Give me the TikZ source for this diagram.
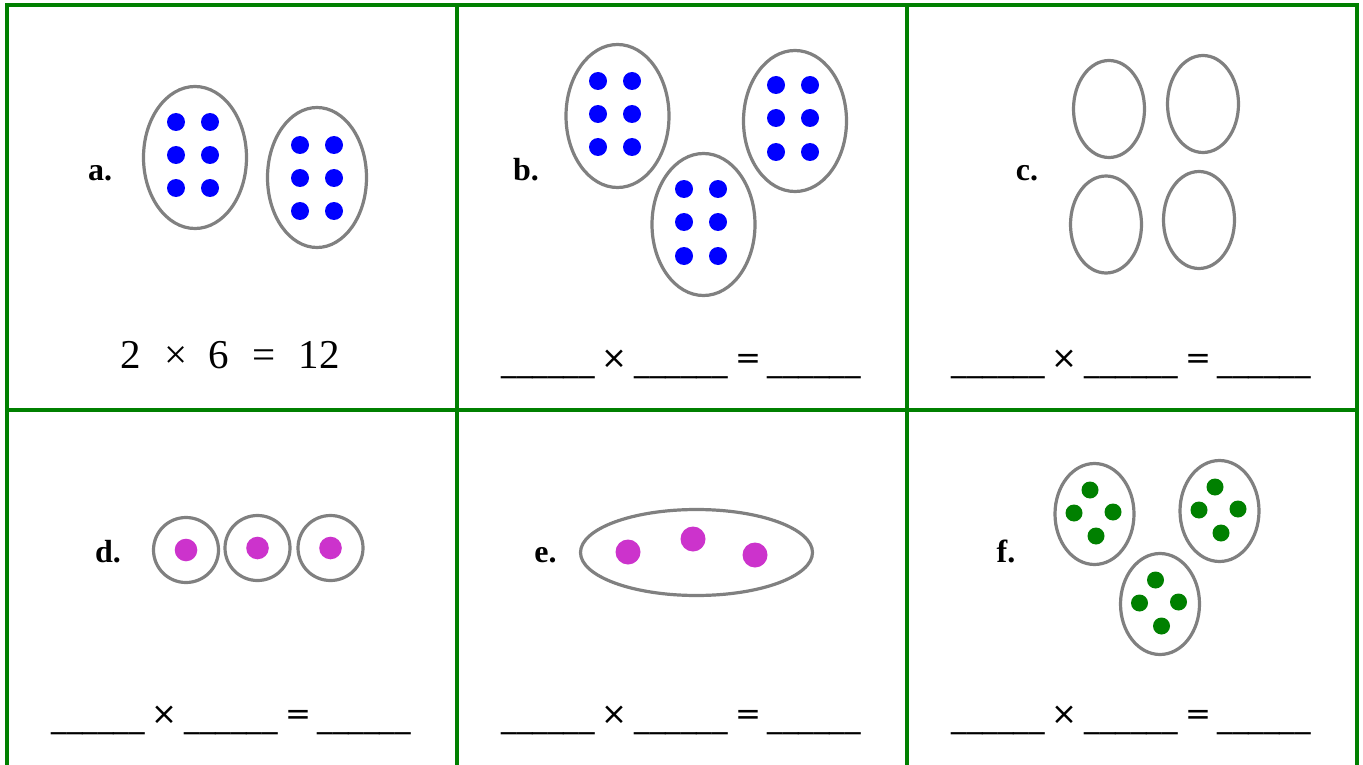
\documentclass[tikz,border=0pt]{standalone}
\usepackage{fontspec}
\setmainfont{Liberation Serif}
\newfontfamily\blankfont{DejaVu Sans}
\usepackage{tikz}

\definecolor{gridgreen}{RGB}{0,128,0}
\definecolor{ringgray}{RGB}{128,128,128}
\definecolor{dotblue}{RGB}{0,0,255}
\definecolor{dotpink}{RGB}{204,51,204}
\definecolor{dotgreen}{RGB}{0,128,0}

\newcommand{\answerline}[3]{%
  \node[blank] (#1u1) at (#2+91,#3+3) {\_\_\_\_\_\_};
  \node[blank] (#1times) at (#2+157,#3) {×};
  \node[blank] (#1u2) at (#2+224,#3+3) {\_\_\_\_\_\_};
  \node[blank] (#1eq) at (#2+291,#3) {=};
  \node[blank] (#1u3) at (#2+357,#3+3) {\_\_\_\_\_\_};
}

\begin{document}
\begin{tikzpicture}[x=1pt, y=-1pt,
    cellline/.style={draw=gridgreen, line width=3.4pt},
    ring/.style={draw=ringgray, line width=3.2pt},
    lbl/.style={font=\fontsize{32}{38}\selectfont\bfseries, inner sep=0pt, anchor=base},
    eqtext/.style={font=\fontsize{41}{48}\selectfont, inner sep=0pt, anchor=base},
    blank/.style={font=\blankfont\fontsize{31}{36}\selectfont, inner sep=0pt, anchor=base}]
    \useasboundingbox (0,0) rectangle (1363,765);
    \fill[white] (0,0) rectangle (1363,765);

    \foreach \x in {7,457,907,1357} \draw[cellline] (\x,3.3) -- (\x,765);
    \foreach \y in {5,410} \draw[cellline] (5.3,\y) -- (1358.7,\y);

    % a
    \node[lbl] (la) at (100,180) {a.};
    \draw[ring] (195,157.5) ellipse [x radius=51.5, y radius=71];
    \draw[ring] (317,177.5) ellipse [x radius=49.5, y radius=70];
    \foreach \x in {176,210} \foreach \y in {122,155,188} \fill[dotblue] (\x,\y) circle (9);
    \foreach \x in {300,334} \foreach \y in {145,178,211} \fill[dotblue] (\x,\y) circle (9);
    \node[eqtext] (eqtwo) at (131,368) {2};
    \node[eqtext] (eqtimes) at (176,368) {×};
    \node[eqtext] (eqsix) at (219,368) {6};
    \node[eqtext] (eqeq) at (264,368) {=};
    \node[eqtext] (eqprod) at (319,368) {12};

    % b
    \node[lbl] (lb) at (526,180) {b.};
    \draw[ring] (617.5,116) ellipse [x radius=51.5, y radius=71.5];
    \draw[ring] (795,121) ellipse [x radius=51.5, y radius=70.5];
    \draw[ring] (703.5,224.5) ellipse [x radius=51.5, y radius=71];
    \foreach \x in {598,632} \foreach \y in {81,114,147} \fill[dotblue] (\x,\y) circle (9);
    \foreach \x in {776,810} \foreach \y in {85,118,152} \fill[dotblue] (\x,\y) circle (9);
    \foreach \x in {684,718} \foreach \y in {189,222,256} \fill[dotblue] (\x,\y) circle (9);
    \answerline{b}{457}{368}

    % c
    \node[lbl] (lc) at (1027,180) {c.};
    \foreach \cx/\cy in {1109/109,1203/104,1106/224.5,1199/220}
      \draw[ring] (\cx,\cy) ellipse [x radius=35.5, y radius=48.5];
    \answerline{c}{907}{368}

    % d
    \node[lbl] (ld) at (108,562) {d.};
    \foreach \cx/\cy in {186/550,257.5/548,330.5/548} {
      \draw[ring] (\cx,\cy) circle (32.5);
      \fill[dotpink] (\cx,\cy) circle (11.3);
    }
    \answerline{d}{7}{724}

    % e
    \node[lbl] (le) at (545.5,562) {e.};
    \draw[ring] (696.5,552.5) ellipse [x radius=116, y radius=43];
    \foreach \x/\y in {628/552,693/539,755/555} \fill[dotpink] (\x,\y) circle (12.5);
    \answerline{e}{457}{724}

    % f
    \node[lbl] (lf) at (1006,562) {f.};
    \foreach \cx/\cy in {1094.5/514,1219.5/511,1160/604} {
      \draw[ring] (\cx,\cy) ellipse [x radius=39.5, y radius=50.5];
      \foreach \dx/\dy in {-4.5/-24,-20.5/-1,18.5/-2,1.5/22}
        \fill[dotgreen] (\cx+\dx,\cy+\dy) circle (8.5);
    }
    \answerline{f}{907}{724}
\end{tikzpicture}
\end{document}
